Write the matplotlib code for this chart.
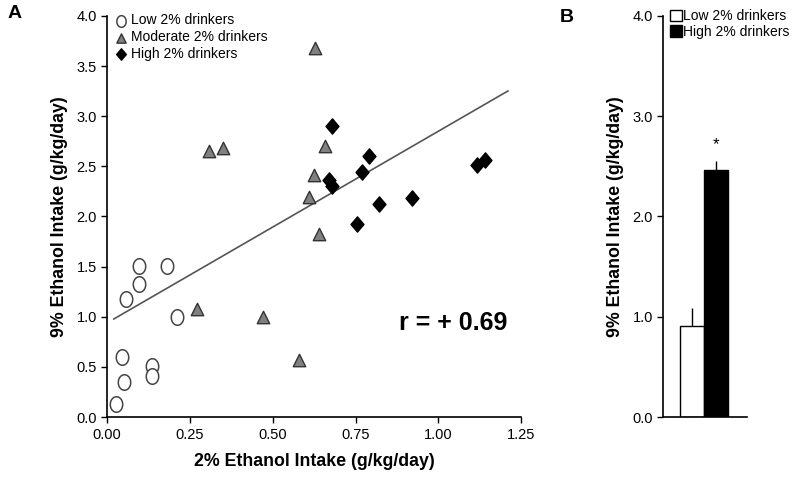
import matplotlib.pyplot as plt
import numpy as np
from matplotlib.path import Path

plt.rcParams['font.family'] = ['Liberation Sans', 'DejaVu Sans']

# panel A: individual rats
low_x = [0.027, 0.046, 0.05, 0.056, 0.095, 0.095, 0.136, 0.136, 0.18, 0.21]
low_y = [0.13, 0.60, 0.35, 1.18, 1.33, 1.51, 0.51, 0.41, 1.51, 1.00]
mod_x = [0.308, 0.35, 0.627, 0.657, 0.625, 0.61, 0.64, 0.27, 0.47, 0.58]
mod_y = [2.65, 2.68, 3.68, 2.70, 2.41, 2.19, 1.83, 1.08, 1.00, 0.57]
high_x = [0.68, 0.79, 0.77, 0.67, 0.68, 0.82, 0.755, 0.92, 1.117, 1.14]
high_y = [2.90, 2.60, 2.44, 2.36, 2.30, 2.12, 1.93, 2.18, 2.51, 2.56]
fit_x = [0.02, 1.21]
fit_slope, fit_icpt = 1.91, 0.94

# panel B: group means
groups = ["Low 2% drinkers", "High 2% drinkers"]
means = [0.91, 2.46]
sems = [0.18, 0.09]

# slightly tall markers, like the original
t = np.linspace(0, 2 * np.pi, 60)
oval = Path(np.column_stack([0.8 * np.cos(t), np.sin(t)]), closed=True)
diam = Path([(0, 1), (0.85, 0), (0, -1), (-0.85, 0), (0, 1)], closed=True)

fig = plt.figure(figsize=(8, 4.8), dpi=100)
axA = fig.add_axes([0.134, 0.131, 0.5175, 0.836])
axB = fig.add_axes([0.829, 0.131, 0.105, 0.836])

# ---- A
fx = np.array(fit_x)
axA.plot(fx, fit_icpt + fit_slope * fx, color="#555555", lw=1.2, zorder=1)
axA.scatter(low_x, low_y, s=125, marker=oval, facecolor="white", edgecolor="#444444",
            linewidth=1.1, label="Low 2% drinkers", zorder=3)
axA.scatter(mod_x, mod_y, s=80, marker="^", facecolor="#808080", edgecolor="#333333",
            linewidth=1.0, label="Moderate 2% drinkers", zorder=3)
axA.scatter(high_x, high_y, s=120, marker=diam, facecolor="black", edgecolor="black",
            label="High 2% drinkers", zorder=3)
axA.set_xlim(0, 1.25)
axA.set_ylim(0, 4.0)
axA.set_xticks(np.arange(0, 1.26, 0.25))
axA.set_xticklabels(["0.00", "0.25", "0.50", "0.75", "1.00", "1.25"])
axA.set_yticks(np.arange(0, 4.01, 0.5))
axA.set_yticklabels(["%.1f" % v for v in np.arange(0, 4.01, 0.5)])
axA.set_xlabel("2% Ethanol Intake (g/kg/day)", fontsize=12.8, fontweight="bold", labelpad=8)
axA.set_ylabel("9% Ethanol Intake (g/kg/day)", fontsize=12.8, fontweight="bold", labelpad=6)
axA.text(0.88, 0.94, "r = + 0.69", fontsize=18, fontweight="bold", va="center")
axA.legend(loc="upper left", frameon=False, fontsize=10, handletextpad=0.1,
           borderaxespad=0.0, labelspacing=0.2, bbox_to_anchor=(0.0, 1.02),
           handlelength=1.2, markerscale=0.75)

# ---- B
cols = ["white", "black"]
for i in range(2):
    axB.bar(i, means[i], width=1.0, color=cols[i], edgecolor="black", lw=1.0,
            label=groups[i], zorder=2)
    axB.errorbar(i, means[i], yerr=[[0], [sems[i]]], color="black", lw=1.0,
                 capsize=0, zorder=1)
axB.text(1, means[1] + sems[1] + 0.12, "*", ha="center", fontsize=12)
axB.set_xlim(-1.2, 2.3)
axB.set_ylim(0, 4.0)
axB.set_xticks([])
axB.set_yticks([0, 1, 2, 3, 4])
axB.set_yticklabels(["0.0", "1.0", "2.0", "3.0", "4.0"])
axB.set_ylabel("9% Ethanol Intake (g/kg/day)", fontsize=12.8, fontweight="bold", labelpad=6)
axB.legend(loc="upper left", frameon=False, fontsize=10, handletextpad=0.1,
           borderaxespad=0.0, labelspacing=0.1, bbox_to_anchor=(0.02, 1.03),
           handlelength=0.8, handleheight=0.9)

for ax in (axA, axB):
    for s in ("top", "right"):
        ax.spines[s].set_visible(False)
    ax.spines["left"].set_linewidth(1.2)
    ax.spines["bottom"].set_linewidth(1.2)
    ax.tick_params(direction="out", length=4, width=1.0, labelsize=10.5)

fig.text(0.009, 0.99, "A", fontsize=14, fontweight="bold", va="top")
fig.text(0.70, 0.982, "B", fontsize=14, fontweight="bold", va="top")

fig.savefig("out.png", dpi=100)
